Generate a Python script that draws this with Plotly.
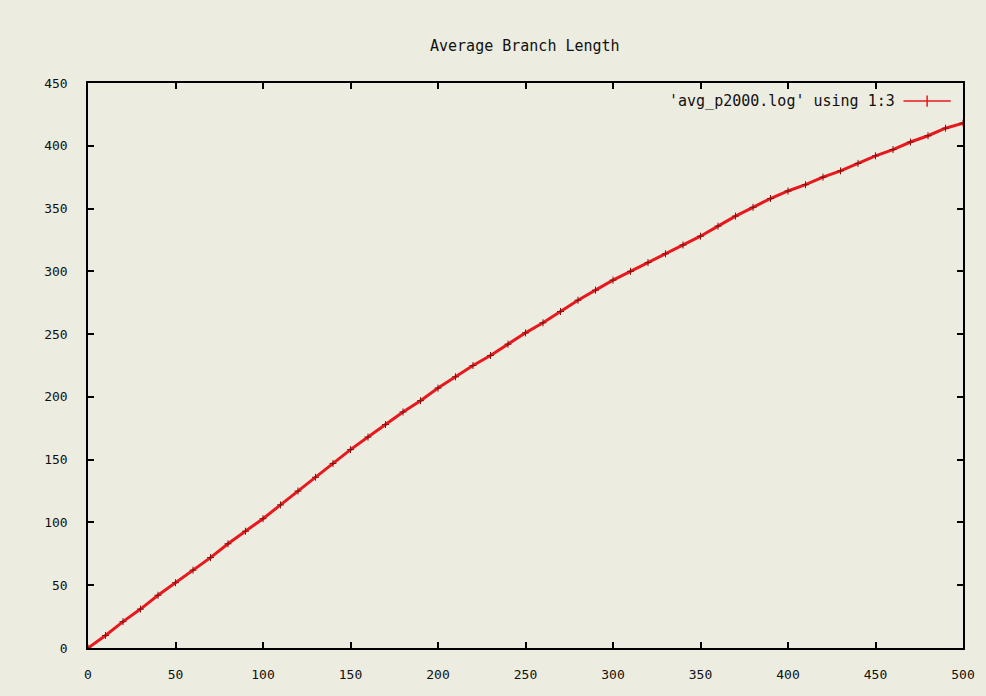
import plotly.graph_objects as go

# Values (x = iteration, y = average branch length)
x_vals = [0, 10, 20, 30, 40, 50, 60, 70, 80, 90, 100, 110, 120, 130, 140, 150,
          160, 170, 180, 190, 200, 210, 220, 230, 240, 250, 260, 270, 280, 290,
          300, 310, 320, 330, 340, 350, 360, 370, 380, 390, 400, 410, 420, 430,
          440, 450, 460, 470, 480, 490, 500]
y_vals = [0, 10, 21, 31, 42, 52, 62, 72, 83, 93, 103, 114, 125, 136, 147, 158,
          168, 178, 188, 197, 207, 216, 225, 233, 242, 251, 259, 268, 277, 285,
          293, 300, 307, 314, 321, 328, 336, 344, 351, 358, 364, 369, 375, 380,
          386, 392, 397, 403, 408, 414, 418]

x_ticks = [0, 50, 100, 150, 200, 250, 300, 350, 400, 450, 500]
y_ticks = [0, 50, 100, 150, 200, 250, 300, 350, 400, 450]

title_text = "Average Branch Length"
legend_text = "'avg_p2000.log' using 1:3"

bg = "#ECECE0"
red = "#E8191E"
tick_font = dict(family="DejaVu Sans Mono", size=13, color="#111111")
text_font = dict(family="DejaVu Sans Mono", size=15, color="#111111")

fig = go.Figure()
fig.add_trace(go.Scatter(
    x=x_vals, y=y_vals, mode="lines+markers",
    line=dict(color=red, width=3),
    marker=dict(symbol="cross-thin", size=5, color="#8B1010",
                line=dict(color="#8B1010", width=1)),
    showlegend=False, hoverinfo="skip"))

axis_common = dict(
    showgrid=False, zeroline=False, showline=True, linecolor="black",
    linewidth=1.5, mirror="allticks", ticks="inside", ticklen=6,
    tickcolor="black", tickwidth=1.5, tickfont=tick_font,
)
fig.update_xaxes(range=[0, 500], tickvals=x_ticks, ticktext=[str(v) for v in x_ticks],
                 ticklabelstandoff=14, **axis_common)
fig.update_yaxes(range=[0, 450], tickvals=y_ticks, ticktext=[str(v) for v in y_ticks],
                 ticklabelstandoff=16, **axis_common)

fig.update_layout(
    width=986, height=696,
    margin=dict(l=88, r=23, t=83, b=48),
    paper_bgcolor=bg, plot_bgcolor=bg,
    font=tick_font,
    annotations=[
        dict(text=title_text, x=(525 - 88) / 875, y=1 + (83 - 46) / 565,
             xref="paper", yref="paper", yanchor="middle",
             showarrow=False, font=text_font),
        dict(text=legend_text, x=0.924, y=0.968, xref="paper", yref="paper",
             xanchor="right", yanchor="middle", showarrow=False, font=text_font),
    ],
    shapes=[
        dict(type="line", xref="paper", yref="paper", x0=0.932, x1=0.986,
             y0=0.968, y1=0.968, line=dict(color=red, width=1.5)),
        dict(type="line", xref="paper", yref="paper", x0=0.959, x1=0.959,
             y0=0.958, y1=0.978, line=dict(color=red, width=1.5)),
    ],
)

fig.write_html("out.html")
